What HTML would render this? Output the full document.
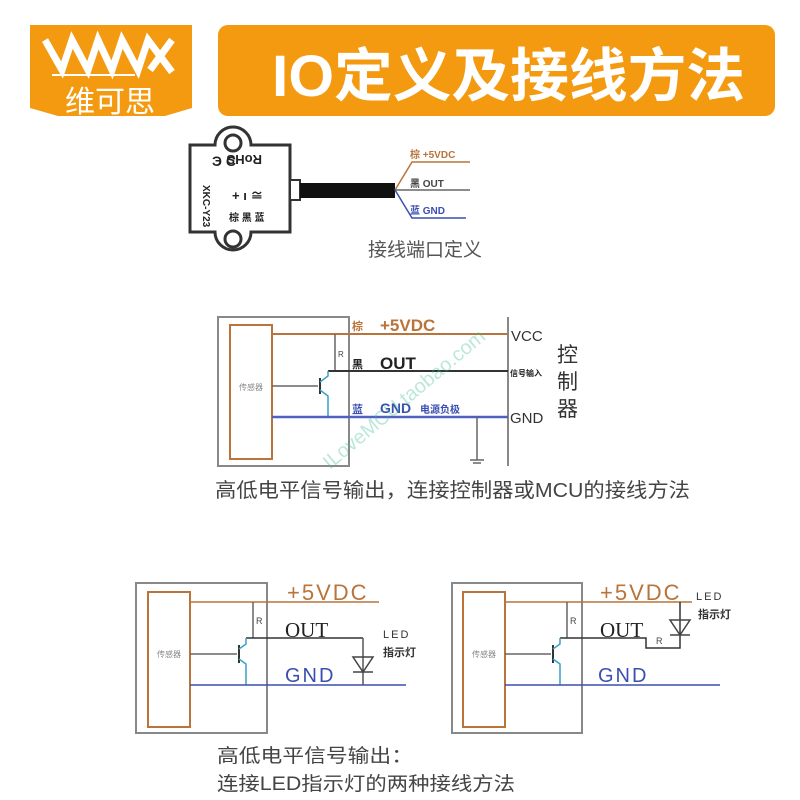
<!DOCTYPE html>
<html><head><meta charset="utf-8"><style>
html,body{margin:0;padding:0;background:#fff;width:800px;height:800px;overflow:hidden}
svg text{font-family:"Liberation Sans","Noto Sans CJK SC",sans-serif}
</style></head><body>
<svg width="800" height="800" viewBox="0 0 800 800" xmlns="http://www.w3.org/2000/svg">
<!-- logo -->
<polygon points="30,25 192,25 192,108 165,116 58,116 30,108" fill="#F39A10"/>
<g stroke="#fff" stroke-width="7" fill="none" stroke-linejoin="miter">
<polyline points="45,40 62,70 72,40 88,70 98,40 112,70 122,40 138,70 148,40 172,72"/>
<line x1="150" y1="70" x2="172" y2="40"/>
</g>
<line x1="52" y1="75" x2="135" y2="75" stroke="#fff" stroke-width="2"/>
<text x="110" y="112" font-size="30" fill="#fff" text-anchor="middle">维可思</text>
<!-- title -->
<rect x="218" y="25" width="557" height="91" rx="10" fill="#F39A10"/>
<text x="272" y="96" font-size="58" font-weight="bold" fill="#fff" textLength="473" lengthAdjust="spacingAndGlyphs">IO定义及接线方法</text>

<!-- top sensor -->
<path d="M190,145 L215,145 A18,18 0 0 1 251,145 L290,145 L290,232 L251,232 A18,18 0 0 1 215,232 L190,232 Z" fill="#fff" stroke="#333" stroke-width="3"/>
<circle cx="233" cy="143" r="8" fill="none" stroke="#333" stroke-width="3"/>
<circle cx="233" cy="239" r="8" fill="none" stroke="#333" stroke-width="3"/>
<rect x="290" y="180" width="10" height="20" fill="#fff" stroke="#333" stroke-width="2"/>
<rect x="300" y="183" width="95" height="15" fill="#111"/>
<text x="262" y="165" font-size="13" font-weight="bold" fill="#222" transform="rotate(180 262 160)">RoHS</text>
<text x="212" y="166" font-size="14" font-weight="bold" fill="#222">Э C</text>
<text x="232" y="200" font-size="13" font-weight="bold" fill="#222">+  ı  ≅</text>
<text x="229" y="221" font-size="10" font-weight="bold" fill="#222">棕 黑 蓝</text>
<text x="203" y="185" font-size="10" font-weight="bold" fill="#222" transform="rotate(90 203 185)">XKC-Y23</text>
<polyline points="395,190 412,162 470,162" fill="none" stroke="#b8743a" stroke-width="1.5"/>
<line x1="395" y1="190" x2="470" y2="190" stroke="#666" stroke-width="1.5"/>
<polyline points="395,190 412,218 466,218" fill="none" stroke="#3a4fb0" stroke-width="1.5"/>
<text x="410" y="158" font-size="10" font-weight="bold" fill="#b8743a">棕  +5VDC</text>
<text x="410" y="187" font-size="10" font-weight="bold" fill="#444">黑  OUT</text>
<text x="410" y="214" font-size="10" font-weight="bold" fill="#3a4fb0">蓝  GND</text>
<text x="368" y="256" font-size="19" fill="#555">接线端口定义</text>

<!-- middle diagram -->
<rect x="218" y="317" width="131" height="149" fill="none" stroke="#888" stroke-width="2"/>
<rect x="230" y="325" width="42" height="134" fill="none" stroke="#b8743a" stroke-width="2"/>
<text x="251" y="390" font-size="8" fill="#888" text-anchor="middle">传感器</text>
<line x1="272" y1="334" x2="507" y2="334" stroke="#b8743a" stroke-width="2"/>
<line x1="508" y1="317" x2="508" y2="466" stroke="#888" stroke-width="2"/>
<line x1="335" y1="334" x2="335" y2="371" stroke="#666" stroke-width="1.5"/>
<text x="338" y="357" font-size="8" fill="#444">R</text>
<line x1="328" y1="371" x2="508" y2="371" stroke="#333" stroke-width="2"/>
<line x1="272" y1="386" x2="318" y2="386" stroke="#666" stroke-width="1.5"/>
<line x1="320" y1="378" x2="320" y2="394" stroke="#333" stroke-width="2"/>
<polyline points="320,382 328,376 328,371" fill="none" stroke="#3aa0c8" stroke-width="1.5"/>
<polyline points="320,390 328,396 328,417" fill="none" stroke="#3aa0c8" stroke-width="1.5"/>
<line x1="272" y1="417" x2="508" y2="417" stroke="#5060c0" stroke-width="2.5"/>
<line x1="477" y1="417" x2="477" y2="460" stroke="#666" stroke-width="1.5"/>
<line x1="470" y1="460" x2="484" y2="460" stroke="#666" stroke-width="1.5"/>
<line x1="473" y1="463" x2="481" y2="463" stroke="#666" stroke-width="1.5"/>
<text x="352" y="330" font-size="11" font-weight="bold" fill="#b8743a">棕</text>
<text x="380" y="331" font-size="17" font-weight="bold" fill="#b8743a">+5VDC</text>
<text x="352" y="368" font-size="11" font-weight="bold" fill="#222">黑</text>
<text x="380" y="369" font-size="17" font-weight="bold" fill="#222">OUT</text>
<text x="352" y="413" font-size="11" font-weight="bold" fill="#3a4fb0">蓝</text>
<text x="380" y="413" font-size="14" font-weight="bold" fill="#3a4fb0">GND</text>
<text x="420" y="413" font-size="10" font-weight="bold" fill="#3a4fb0">电源负极</text>
<text x="511" y="341" font-size="15" fill="#333">VCC</text>
<text x="510" y="376" font-size="8" font-weight="bold" fill="#222">信号输入</text>
<text x="510" y="423" font-size="15" fill="#333">GND</text>
<text x="557" y="362" font-size="21" fill="#333">控</text>
<text x="557" y="389" font-size="21" fill="#333">制</text>
<text x="557" y="416" font-size="21" fill="#333">器</text>
<g opacity="0.35" fill="#3cc090">
<text x="330" y="470" font-size="20" transform="rotate(-40 330 470)">ILoveMCU.taobao.com</text>
</g>
<text x="215" y="497" font-size="20" fill="#444" textLength="475" lengthAdjust="spacingAndGlyphs">高低电平信号输出，连接控制器或MCU的接线方法</text>

<!-- bottom left -->
<rect x="136" y="583" width="131" height="150" fill="none" stroke="#888" stroke-width="2"/>
<rect x="148" y="592" width="42" height="135" fill="none" stroke="#b8743a" stroke-width="2"/>
<text x="169" y="657" font-size="8" fill="#888" text-anchor="middle">传感器</text>
<line x1="190" y1="602" x2="379" y2="602" stroke="#b8743a" stroke-width="1.5"/>
<line x1="253" y1="602" x2="253" y2="638" stroke="#666" stroke-width="1.5"/>
<text x="256" y="624" font-size="9" fill="#444">R</text>
<line x1="246" y1="638" x2="363" y2="638" stroke="#333" stroke-width="1.5"/>
<line x1="190" y1="654" x2="237" y2="654" stroke="#666" stroke-width="1.5"/>
<line x1="239" y1="645" x2="239" y2="663" stroke="#333" stroke-width="2"/>
<polyline points="239,649 246,644 246,638" fill="none" stroke="#3aa0c8" stroke-width="1.5"/>
<polyline points="239,659 246,664 246,685" fill="none" stroke="#3aa0c8" stroke-width="1.5"/>
<line x1="190" y1="685" x2="406" y2="685" stroke="#3a4fb0" stroke-width="1.5"/>
<line x1="363" y1="638" x2="363" y2="685" stroke="#555" stroke-width="1.5"/>
<polygon points="353,657 373,657 363,672" fill="none" stroke="#444" stroke-width="1.5"/>
<line x1="353" y1="672" x2="373" y2="672" stroke="#444" stroke-width="1.5"/>
<text x="287" y="600" font-size="22" fill="#b8743a" letter-spacing="2">+5VDC</text>
<text x="285" y="637" font-size="21" fill="#222" style="font-family:'Liberation Serif',serif">OUT</text>
<text x="285" y="682" font-size="20" fill="#3a4fb0" letter-spacing="2">GND</text>
<text x="383" y="638" font-size="11" fill="#333" letter-spacing="2">LED</text>
<text x="383" y="656" font-size="11" font-weight="bold" fill="#333">指示灯</text>

<!-- bottom right -->
<rect x="452" y="583" width="130" height="150" fill="none" stroke="#888" stroke-width="2"/>
<rect x="463" y="592" width="42" height="135" fill="none" stroke="#b8743a" stroke-width="2"/>
<text x="484" y="657" font-size="8" fill="#888" text-anchor="middle">传感器</text>
<line x1="505" y1="602" x2="692" y2="602" stroke="#b8743a" stroke-width="1.5"/>
<line x1="567" y1="602" x2="567" y2="638" stroke="#666" stroke-width="1.5"/>
<text x="570" y="624" font-size="9" fill="#444">R</text>
<polyline points="560,638 646,638 646,648 680,648 680,602" fill="none" stroke="#333" stroke-width="1.5"/>
<text x="656" y="644" font-size="9" fill="#444">R</text>
<line x1="505" y1="654" x2="551" y2="654" stroke="#666" stroke-width="1.5"/>
<line x1="553" y1="645" x2="553" y2="663" stroke="#333" stroke-width="2"/>
<polyline points="553,649 560,644 560,638" fill="none" stroke="#3aa0c8" stroke-width="1.5"/>
<polyline points="553,659 560,664 560,685" fill="none" stroke="#3aa0c8" stroke-width="1.5"/>
<line x1="505" y1="685" x2="720" y2="685" stroke="#3a4fb0" stroke-width="1.5"/>
<polygon points="670,620 690,620 680,635" fill="none" stroke="#444" stroke-width="1.5"/>
<line x1="670" y1="635" x2="690" y2="635" stroke="#444" stroke-width="1.5"/>
<text x="600" y="600" font-size="22" fill="#b8743a" letter-spacing="2">+5VDC</text>
<text x="600" y="637" font-size="21" fill="#222" style="font-family:'Liberation Serif',serif">OUT</text>
<text x="598" y="682" font-size="20" fill="#3a4fb0" letter-spacing="2">GND</text>
<text x="696" y="600" font-size="11" fill="#333" letter-spacing="2">LED</text>
<text x="698" y="618" font-size="11" font-weight="bold" fill="#333">指示灯</text>

<text x="217" y="762" font-size="19" fill="#444" textLength="196" lengthAdjust="spacingAndGlyphs">高低电平信号输出：</text>
<text x="217" y="790" font-size="19" fill="#444" textLength="298" lengthAdjust="spacingAndGlyphs">连接LED指示灯的两种接线方法</text>
</svg>
</body></html>
